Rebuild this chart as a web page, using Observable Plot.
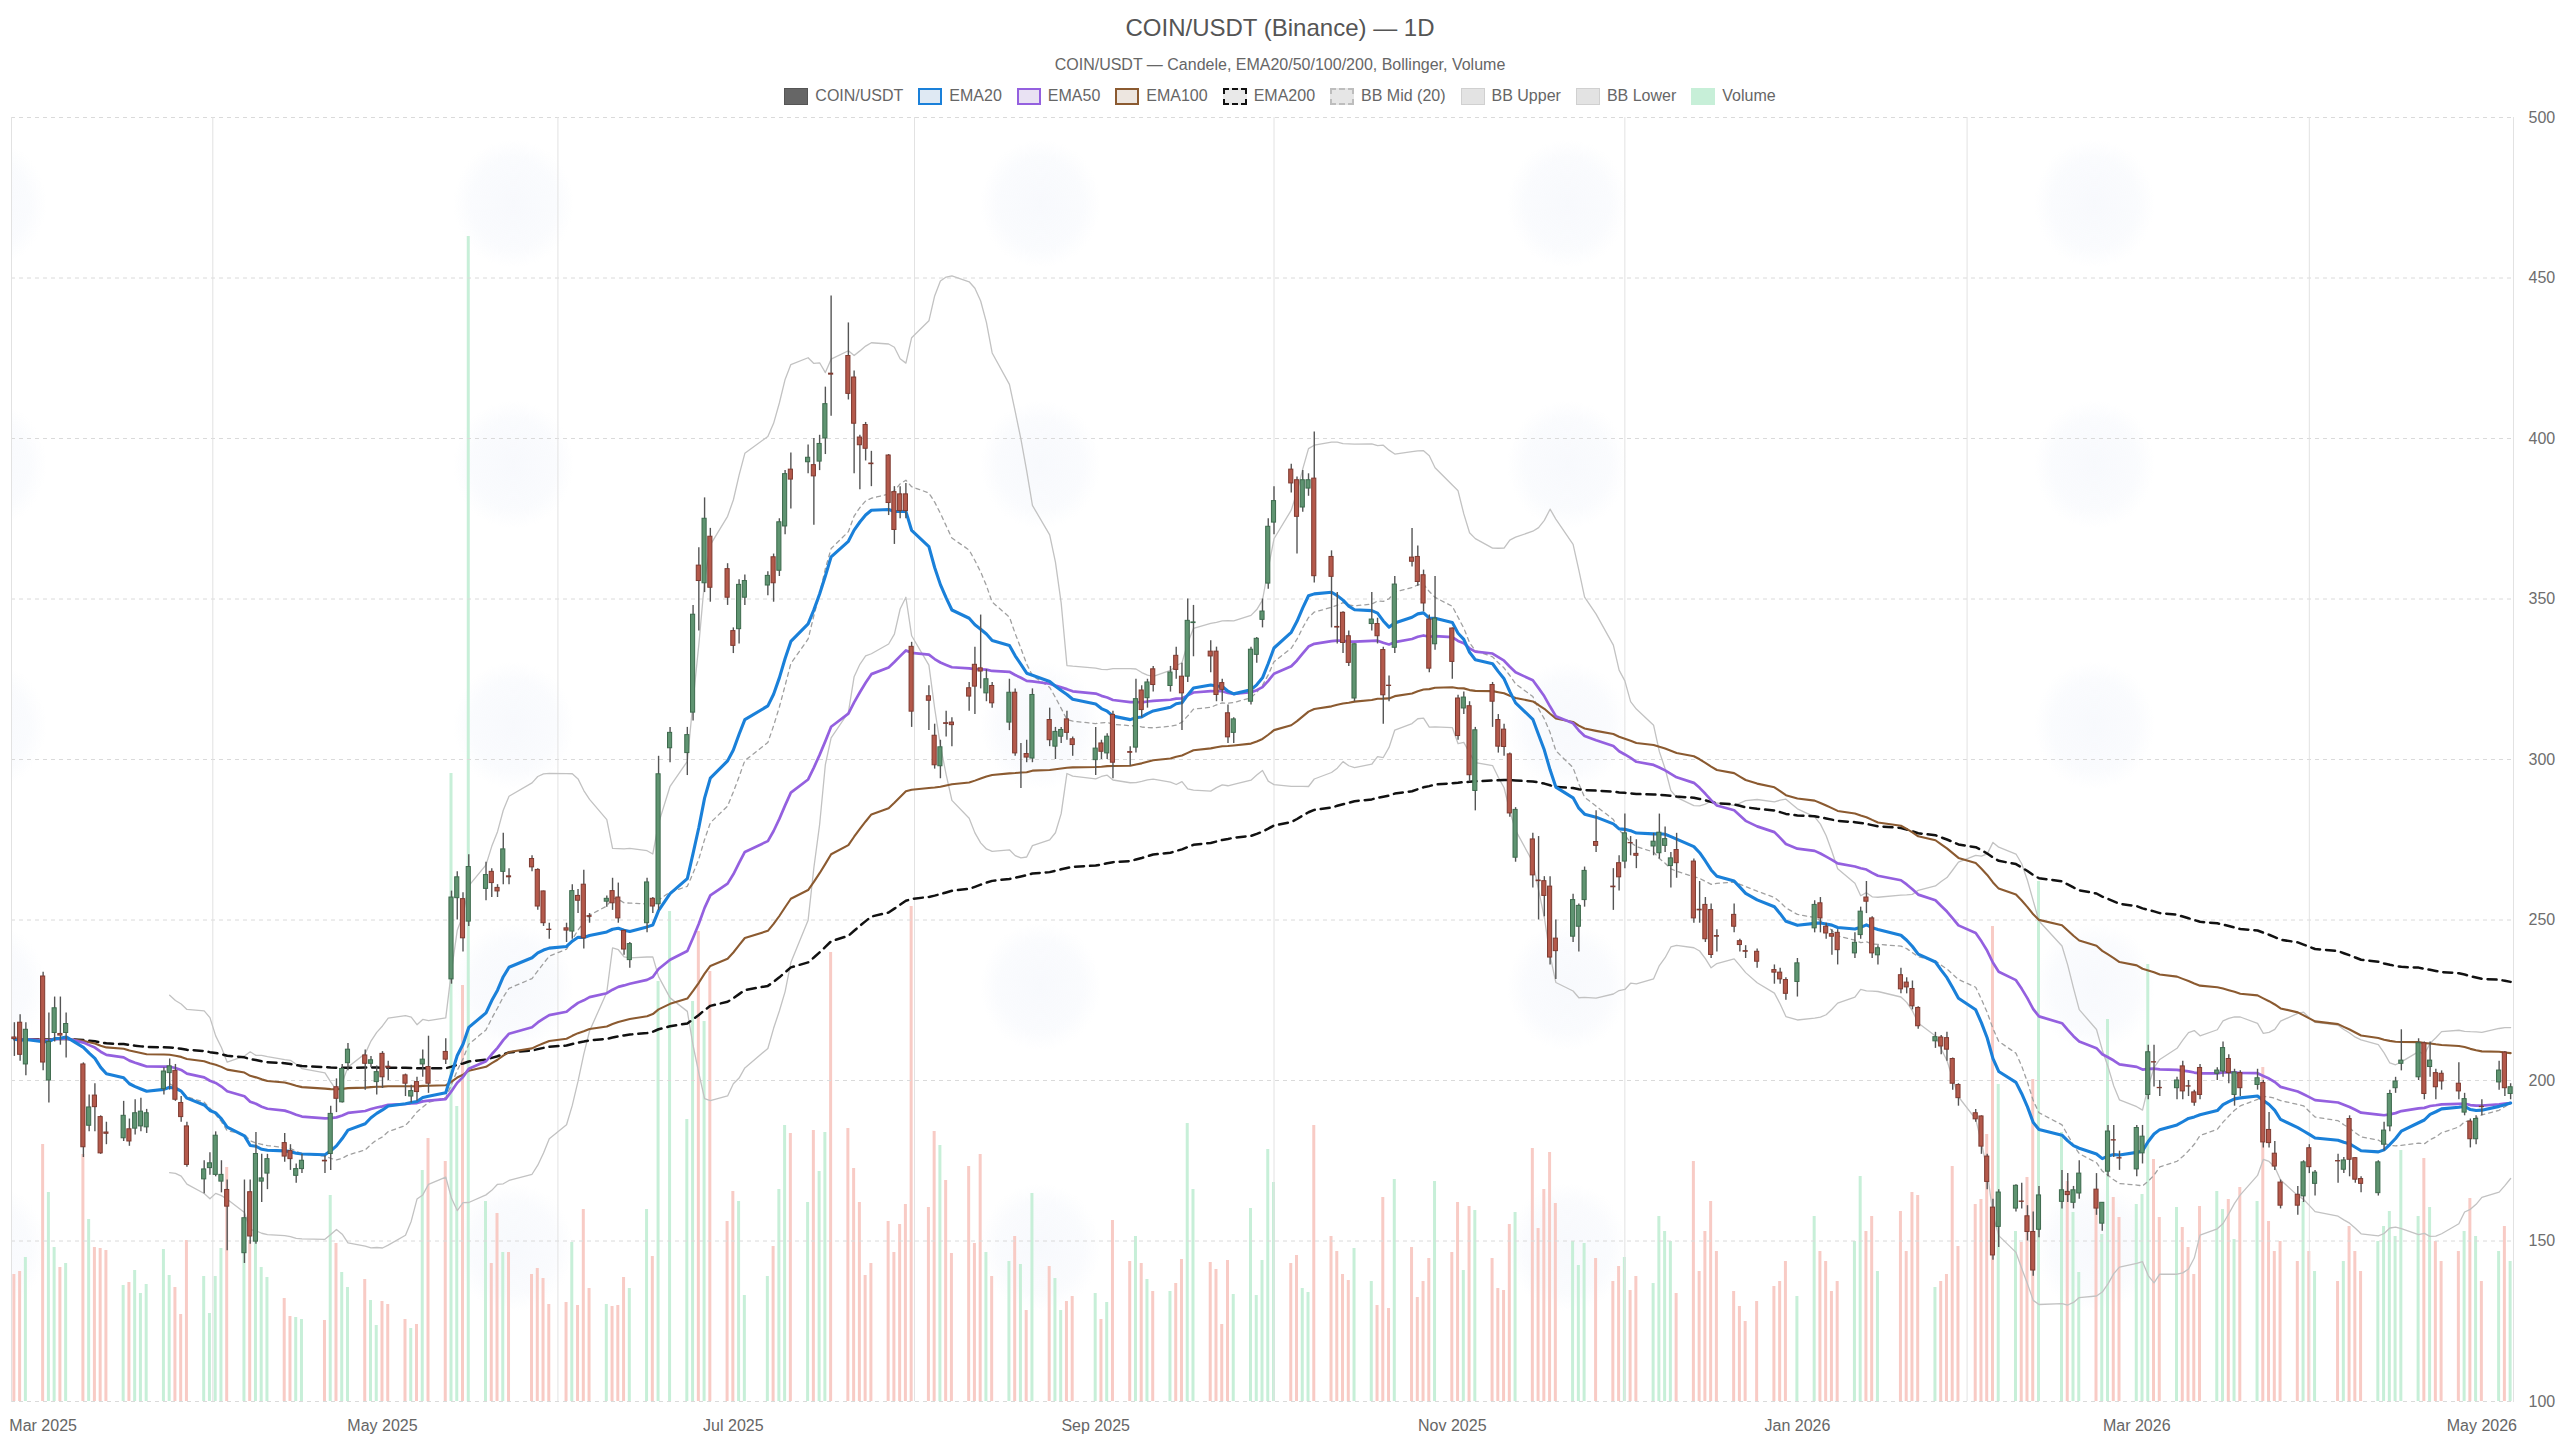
<!DOCTYPE html>
<html>
<head>
<meta charset="utf-8">
<script src="https://cdn.jsdelivr.net/npm/d3@7"></script>
<script src="https://cdn.jsdelivr.net/npm/@observablehq/plot@0.6"></script>
<style>
html,body{margin:0;padding:0;background:#fff;overflow:hidden;}
body{width:2560px;height:1440px;position:relative;font-family:"Liberation Sans",Arial,Helvetica,sans-serif;}
#title{position:absolute;top:14px;left:0;width:2560px;text-align:center;font-size:24px;line-height:28px;color:#555;}
#subtitle{position:absolute;top:55px;left:0;width:2560px;text-align:center;font-size:16px;line-height:20px;color:#666;}
#legend{position:absolute;top:86px;left:0;width:2560px;height:20px;display:flex;justify-content:center;align-items:center;font-size:16px;color:#666;}
#legend .item{display:flex;align-items:center;margin:0 7.5px;}
#legend .sw{width:24px;height:17px;box-sizing:border-box;margin-right:7px;}
#wm{position:absolute;left:11px;top:117px;width:2502px;height:1284px;
 background-image:radial-gradient(ellipse 60px 64px at 50% 50%, rgba(232,237,248,0.32) 0%, rgba(234,239,249,0.24) 70%, rgba(255,255,255,0) 100%);
 background-size:527px 261px;background-position:239px -44px;background-repeat:repeat;}
#chart{position:absolute;left:0;top:110px;width:2560px;height:1330px;}
#chart svg{position:absolute;left:0;top:0;overflow:visible;}
</style>
</head>
<body>
<div id="title">COIN/USDT (Binance) — 1D</div>
<div id="subtitle">COIN/USDT — Candele, EMA20/50/100/200, Bollinger, Volume</div>
<div id="legend"></div>
<div id="wm"></div>
<div id="chart"></div>
<script>
// ---------- DATA ----------
const firstDay = "2025-02-26";
const lastDay = "2026-05-06";
const holidays = ["2025-04-18","2025-05-26","2025-06-19","2025-07-04","2025-09-01","2025-11-27",
  "2025-12-25","2026-01-01","2026-01-19","2026-02-16","2026-04-03"];

const open = [
213.4,218,205,
232.4,200,214.8,214.5,214.8,
205,185.9,195.3,188.6,183.8,
182,184.8,185,185.7,185.4,
197.3,202.3,203,193,185.7,
169.2,172.7,170.6,168.5,165.9,
146.2,165.2,149.8,168.5,171,
180.5,178,170.3,172.4,
175,177.1,197.9,193.2,205.4,
207.8,205.2,199.5,208.3,204.3,
201.6,195,199.5,205,204.2,
208.9,231.5,256.8,256.5,249.5,
259.7,265,260,265,263.6,
269,265.6,258.9,247,
247.4,246.4,257.5,261,251.2,
255.7,259,257,246.6,237.5,
249,256.6,254.9,303.5,
302,314.6,360.4,354.9,369.4,
359.3,340,340.6,350.4,
354.2,363,358.8,372.6,390.3,
392.6,391.7,392.8,400,420.2,
425.7,419,400.3,404.2,392.2,
394.7,383.3,382.6,382.6,335.1,
319.7,307.4,297.9,311.3,311.5,
322.2,329.5,328.4,320.6,322.9,
311.5,320.8,304.5,301.7,300.3,
312.3,304,307.1,312.5,306.3,
299.8,305,301.9,313.9,
302.3,303.7,321.5,319.1,328.1,
322.9,332.3,325.8,325.8,342.5,
333.6,333.6,323.8,314.4,308.3,
318,332.6,343.5,354.8,373.8,
390.3,387,378.5,384.4,387.5,
363.1,341.3,345.7,338.4,319,
342.2,342.2,334.1,323,334.8,
362.9,363.1,357.4,343.6,335.9,
340.8,319,315.9,316.6,290.2,
323.2,312.3,309.3,301.6,269.4,
275.1,262.3,262.1,260.4,244.2,
244.8,247.9,256.2,274.3,
260.4,267.7,268.2,274,270.6,
272.9,270.8,273.1,266.8,271.8,
268.2,253.2,254.7,253.1,245,
251.6,243.4,240.3,240.1,
234.4,233.6,231.3,230.7,
247.4,255.2,247.9,245.6,246,
239.6,245.3,257,250.5,239,
232.8,230.5,228.5,222.6,
212.2,213.4,213.2,206.7,198.6,
189.8,188.8,176.3,160.4,154.4,
160.1,162.3,157.7,152.8,153.5,
162.2,165.3,161.9,164.8,
166,155.4,171.6,181.4,175.8,
172.3,177.3,195.5,205.7,197.7,
197.6,204.4,198.2,196.3,203.9,
202.1,202.8,206.7,195.5,202.3,
198.6,199.2,184.6,177.2,168.2,
164.4,163.9,178.9,167.8,
174.9,172.2,188,175.8,169.3,
164.9,180,185.7,197.6,205.2,
201,211.6,204.2,202.3,202.1,
199,190,187.2,181.7,191.8,
199.4,208.7,195.8
];

const close = [
212.9,208,215.8,
205.6,212,222.5,214,217.6,
179.2,191.6,191.7,177.3,183.4,
189,181,189.8,190.3,189.8,
202.8,204.4,194,188.6,173.7,
172.3,174.2,182.8,170.6,160.7,
157.1,151.4,177.1,169.5,175.5,
176.3,175.5,172.4,175,
174.8,189.6,194.3,203.6,209.6,
205.2,206.3,202.6,201,204,
199,196.7,196.4,206.5,199,
206.5,257,263.3,244.3,266.5,
264,261.5,258.9,272,263.3,
266.4,254.2,249,246.9,
246.7,259,256,244.3,251,
256.6,255.2,250.5,240.8,242.5,
261.7,254.2,295.4,308.3,
307.6,345.1,355.6,375,353.5,
350.4,335.4,354.4,355.6,
357.2,354.9,373.9,388.9,387.2,
394,388.2,398.3,410.7,419.9,
413.9,404.6,397.9,396.8,392,
379.9,371.5,377.4,377.4,314.9,
318.3,298.2,303.8,311.1,310.7,
319.6,322.7,327.4,325,317.5,
320.8,301.9,304.5,300.6,320.1,
306,308.6,309.2,308.3,304.5,
303.4,302.4,307.1,299,
302.1,318.8,315.4,324,323.2,
327.1,327.9,320.6,343.2,342.7,
332.1,320.1,321.7,306.9,312.5,
334.2,337.6,346.1,372.5,380.5,
386,375.6,387,387,357.1,
356.9,341.1,336.3,330.1,335.9,
343.6,338.4,320,322.9,354.5,
361.6,355.3,348.6,328.3,343.9,
330.4,307.3,319.3,295.1,309.1,
318,304,303.9,283.2,284.3,
263.9,262.1,257.5,238.3,240.3,
256.2,254.4,265.3,273.1,
260.2,263.3,277,273.9,270,
274.4,277.2,275.2,269.2,267.7,
250.5,253,244,239.1,244.8,
247.9,242.2,240.1,237,
233.6,231.5,227,236.5,
254.7,250.5,245.8,244.8,240.6,
242.9,252.6,255.7,239.6,241.2,
228.4,229,223.1,216.9,
213.5,210.6,209.6,199,194.5,
187.9,179.4,168.4,145.5,165.1,
167.2,162.2,152.8,140.8,164.2,
165.8,164.3,165.8,171,
160.1,161.9,184.1,181.3,175.7,
185.2,182.5,208.8,205.6,197.6,
200,196.6,198.1,193.1,195.5,
203.1,210.1,202.3,202.5,197.6,
200.7,180.7,180.5,173.2,161,
161,174.5,173,171.3,
174.8,175.1,175.3,169.1,167.8,
174.5,184.4,195.8,199.7,206.2,
211.6,195.8,206.2,197.9,199.7,
196.6,194.2,181.7,188,191.7,
203.1,197.6,197.9
];

const high = [
218,220.5,218,
233.7,221,226,226,221,
205.5,195.5,199,189,187,
193.5,188,194,194.5,191,
204,206.7,205,195,187,
175,177.5,184,175,169,
169,169,183.8,177,177,
183.5,180,174,177,
176.5,192,200.5,205,211.5,
209.5,207.5,204.5,209,206,
202,198.5,201,209.5,213.8,
213,259,265,258.5,270.3,
268,266,261,277,266,
270,266,259,249,
249,261,259.5,265.5,252,
257.5,263,261.5,247,243,
263,257,301,310,
310,348,366,381.5,372,
361,341,356,357.5,
358.5,364,375,390,395.5,
398,400,401,416,444.4,
436,421,401,405,396,
395,385,385,386,336.5,
323,311,306,315,313,
324,335,345,328,324,
325,322,305,306,322,
316,310,310,315,307,
310,306,308,315,
304,325,323,325,329,
329,335,330,350,348,
337,335,325,317,313,
335,338,350,375,385,
392,388,390,389,402,
365,352,346,340,336,
352,344,335,326,357,
372,366.5,359,345,357,
341,320,321,318,310,
324,314,311,302,285,
277,276,263.5,263.5,250,
258,255,266.5,284,
266,270,283,276,275,
277,283,279,271,277,
269,262,257,255,247,
255,244,242,241,
236,235,232,238,
256,257,249,247,247,
246,254,262,251,242,
235,232,231,223,
215,214,215,207,199,
191,189,177,163,166,
167.5,168,161,159,167,
172,171,167,175,
171,162,186,186,178,
186,186,211,211,200,
201,206,200,197,205,
204,212,208,203.5,203,
203.5,200,190,181,169,
167,175,180,172,
177,176,189,176,170,
175,187,197,201,215.8,
213,212,212,203.5,203,
205.5,196,188,189,194,
206,209,199
];

const low = [
207.5,206,201.5,
203,193,212,211,207,
176,184,184,177,180,
181,179.5,183,184,183.5,
195.5,197,193.5,187,173,
164.7,170.5,170,165,147,
143,149,149,162,166,
174.5,172,168,171,
171,172,190,193,203,
197,204,195.5,197.5,200,
195,193,193.5,201,196,
205,230,250,240,248,
256,257,257,261,261,
265,253,248,244,
243,244,252,241,249,
254,253,249,239,235,
246,252,253,299,
295,312,340,352,349,
348,333,336,348,
351,349,357,370,378,
389,373,390,395,406.9,
412,389,384,393,385,
376,367,375,375,310,
309,297,294,307,304,
315,314,322,318,316,
309,301,291,299,299,
304,300,305,306,301,
295,300,300,294,
298,302,313,316,321,
321,325,309,324,332,
327,318,318,305,305,
317,330,341,353,370,
383,364,377,382,355,
341,336,333,329,318,
340,336,311,318,333,
360,354,346,327,334,
325,306,314,293,284,
310,302,301,282,268,
260,250,251,236,231.5,
243,240,254,271,
253,259,266,270,266,
270,269,271,260,263,
249,249,243,238,240,
246,240,238,235,
230,230,225,226,
246,246,244,239,236,
238,244,252,238,236,
227,227,222,216,
210,208,206,197,192,
187,177,166,144,148,
159,160,150,139,151,
160,162,160,163,
158,153,170,176,172,
170,174,194,198,195,
194,194,195,192,194,
200,201,199,192,195,
197,179,179,172,160,
158,162,171,164,
168,171,170,168,165,
164,178,184,196,203,
200,194,201,194,197,
194,189,179,180,189,
197,195,194
];

// volume (thousand units, estimated)
const volume = [
127,130,144,
257,209,154,134,138,
247,182,154,153,151,
116,119,131,108,117,
152,126,114,87,161,
125,88,125,153,234,
152,161,180,134,124,
103,85,84,82,
81,206,158,129,114,
122,101,76,100,97,
82,73,77,231,263,
240,628,295,416,1165,
200,138,188,149,149,
127,133,123,97,
99,159,96,192,113,
97,95,96,124,113,
192,145,420,490,
282,400,470,380,430,
180,210,200,106,
125,155,212,276,268,
199,271,230,269,449,
273,233,199,126,138,
180,149,177,197,495,
194,270,256,221,148,
235,158,247,149,125,
140,165,137,91,208,
135,123,91,100,105,
108,82,99,181,
140,165,138,122,110,
110,118,142,278,212,
139,132,77,141,107,
193,106,141,252,219,
138,146,113,109,276,
165,150,127,121,153,
120,96,204,93,222,
154,104,120,143,220,
149,199,131,195,191,
143,113,111,177,189,
253,173,212,249,198,
160,136,158,143,
120,135,144,111,125,
118,185,170,160,108,
240,130,170,200,150,
110,95,80,100,
115,120,140,105,
185,150,140,110,120,
160,225,170,185,130,
190,150,209,206,
114,120,127,235,155,
197,202,267,475,317,
170,159,224,322,520,
269,220,189,129,
204,167,382,204,184,
197,207,437,242,184,
194,174,154,127,195,
210,192,202,162,214,
200,334,180,150,160,
140,200,150,130,
120,140,175,150,130,
160,175,190,165,251,
185,243,194,160,140,
150,170,203,165,120,
150,175,140
];

const yTicks = [100,150,200,250,300,350,400,450,500];
const labelMonths = ["2025-03-01","2025-05-01","2025-07-01","2025-09-01","2025-11-01","2026-01-01","2026-03-01","2026-05-01"];

// ---------- BUILD ----------
const DAY = 864e5;
const parse = s => new Date(s + "T00:00:00Z");
const hol = new Set(holidays);
const dates = [];
for (let t = +parse(firstDay); t <= +parse(lastDay); t += DAY) {
  const d = new Date(t), wd = d.getUTCDay();
  if (wd === 0 || wd === 6) continue;
  if (hol.has(d.toISOString().slice(0,10))) continue;
  dates.push(d);
}
const rows = dates.map((d,i) => ({date:d, o:open[i], h:high[i], l:low[i], c:close[i], v:volume[i], up: close[i] >= open[i]}));
const lens = [open.length, close.length, high.length, low.length, volume.length];
if (lens.some(n => n !== dates.length)) document.getElementById("subtitle").textContent += "  [len " + dates.length + " vs " + lens.join(",") + "]";

// axis ticks sit on the first trading day of each labelled month; grid lines halfway between them
const tickDates = labelMonths.map(m => dates.find(d => d >= parse(m)));
const gridDates = d3.pairs(tickDates, (a,b) => new Date((+a + +b)/2));

function ema(vals, n){ const a = 2/(n+1); let e = vals[0]; return vals.map((v,i) => (e = i === 0 ? v : a*v + (1-a)*e)); }
function boll(vals, n, k){
  return vals.map((v,i) => {
    if (i < n-1) return null;
    const w = vals.slice(i-n+1, i+1);
    const m = d3.mean(w);
    const sd = Math.sqrt(d3.mean(w, x => (x-m)*(x-m)));
    return {mid:m, up:m + k*sd, lo:m - k*sd};
  });
}
const e20 = ema(close,20), e50 = ema(close,50), e100 = ema(close,100), e200 = ema(close,200);
const bb = boll(close,20,2);
const lineRows = rows.map((r,i) => ({date:r.date, e20:e20[i], e50:e50[i], e100:e100[i], e200:e200[i], bb:bb[i]}));
const bbRows = lineRows.filter(r => r.bb);

const C = {
  upFill:"#5f9471", upStroke:"#3d6a4d", dnFill:"#b4594b", dnStroke:"#7e3a30", wick:"#555",
  e20:"#1a80d9", e50:"#9460df", e100:"#8b5a30", e200:"#111111", bbMid:"#a0a0a0", bbBand:"#c2c2c2",
  volUp:"#c7efd8", volDn:"#f8cbc5"
};

const W = 2560, H = 1330;
const M = {marginLeft:11, marginRight:47, marginTop:7, marginBottom:39};
const xDomain = [new Date(+parse(firstDay) - 0.5*DAY), new Date(+parse(lastDay) + 0.5*DAY)];
const font = '"Liberation Sans", Arial, Helvetica, sans-serif';

const volPlot = Plot.plot({
  width:W, height:H, ...M,
  style:{background:"transparent"},
  x:{type:"utc", domain:xDomain, axis:null},
  y:{domain:[0,1284], axis:null},
  marks:[
    Plot.rect(rows, {x1:d => new Date(+d.date - 0.26*DAY), x2:d => new Date(+d.date + 0.26*DAY), y1:0, y2:"v",
      fill:d => d.up ? C.volUp : C.volDn})
  ]
});

const pricePlot = Plot.plot({
  width:W, height:H, ...M,
  style:{background:"transparent", fontFamily:font, fontSize:"16px", color:"#666"},
  x:{type:"utc", domain:xDomain},
  y:{domain:[100,500]},
  marks:[
    Plot.gridY(yTicks, {stroke:"#dadada", strokeOpacity:1, strokeDasharray:"4,4"}),
    Plot.ruleX(gridDates, {stroke:"#e2e2e2", strokeWidth:1}),
    Plot.frame({anchor:"left", stroke:"#e2e2e2"}),
    Plot.frame({anchor:"right", stroke:"#e2e2e2"}),
    Plot.axisY(yTicks, {anchor:"right", tickSize:0, tickPadding:15, fill:"#6e6e6e", fontSize:16, label:null}),
    Plot.axisX(tickDates, {tickSize:0, tickPadding:18, fill:"#666", fontSize:16, label:null,
      tickFormat:d3.utcFormat("%b %Y")}),
    // Bollinger
    Plot.line(bbRows, {x:"date", y:d => d.bb.up, stroke:C.bbBand, strokeWidth:1.3}),
    Plot.line(bbRows, {x:"date", y:d => d.bb.lo, stroke:C.bbBand, strokeWidth:1.3}),
    Plot.line(bbRows, {x:"date", y:d => d.bb.mid, stroke:C.bbMid, strokeWidth:1.3, strokeDasharray:"4,4"}),
    // EMAs
    Plot.line(lineRows, {x:"date", y:"e200", stroke:C.e200, strokeWidth:2.5, strokeDasharray:"9,6"}),
    Plot.line(lineRows, {x:"date", y:"e100", stroke:C.e100, strokeWidth:2.1}),
    Plot.line(lineRows, {x:"date", y:"e50", stroke:C.e50, strokeWidth:2.7}),
    Plot.line(lineRows, {x:"date", y:"e20", stroke:C.e20, strokeWidth:3.1}),
    // candles
    Plot.ruleX(rows, {x:"date", y1:"l", y2:"h", stroke:C.wick, strokeWidth:1.4}),
    Plot.rect(rows, {x1:d => new Date(+d.date - 0.36*DAY), x2:d => new Date(+d.date + 0.36*DAY), y1:"o", y2:"c",
      fill:d => d.up ? C.upFill : C.dnFill, stroke:d => d.up ? C.upStroke : C.dnStroke, strokeWidth:1})
  ]
});

const chart = document.getElementById("chart");
chart.appendChild(volPlot);
chart.appendChild(pricePlot);

// legend
const legendItems = [
  {label:"COIN/USDT", css:"background:#666;border:1px solid #555;"},
  {label:"EMA20", css:"background:#dfe9f3;border:2px solid " + C.e20 + ";"},
  {label:"EMA50", css:"background:#e9e2f3;border:2px solid " + C.e50 + ";"},
  {label:"EMA100", css:"background:#ede6e0;border:2px solid " + C.e100 + ";"},
  {label:"EMA200", css:"background:#e9e9e9;border:2px dashed " + C.e200 + ";"},
  {label:"BB Mid (20)", css:"background:#e6e6e6;border:2px dashed #bdbdbd;"},
  {label:"BB Upper", css:"background:#e3e3e3;border:1px solid #d0d0d0;"},
  {label:"BB Lower", css:"background:#e3e3e3;border:1px solid #d0d0d0;"},
  {label:"Volume", css:"background:" + C.volUp + ";"}
];
const lg = document.getElementById("legend");
legendItems.forEach(it => {
  const d = document.createElement("div"); d.className = "item";
  const s = document.createElement("div"); s.className = "sw"; s.style.cssText = it.css;
  const t = document.createElement("span"); t.textContent = it.label;
  d.appendChild(s); d.appendChild(t); lg.appendChild(d);
});
</script>
</body>
</html>
